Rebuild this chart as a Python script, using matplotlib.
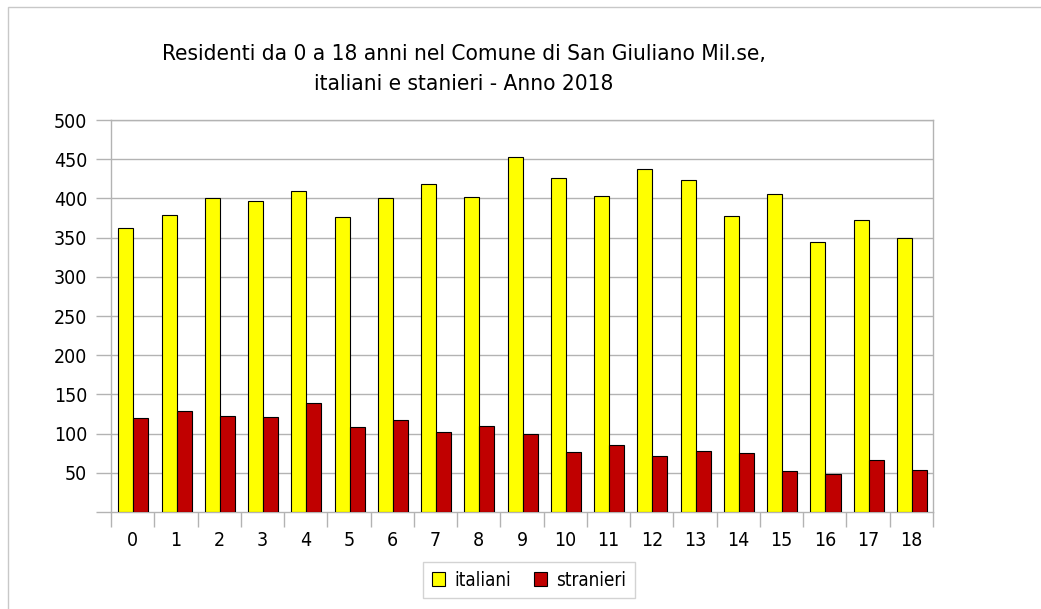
import numpy as np
import matplotlib.pyplot as plt
from matplotlib.patches import Rectangle

plt.rcParams['font.stretch'] = 'condensed'

eta = [str(i) for i in range(19)]
italiani = [362, 379, 401, 397, 409, 376, 400, 418, 402, 453,
            426, 403, 438, 424, 378, 406, 345, 373, 349]
stranieri = [120, 129, 123, 121, 139, 108, 117, 102, 110, 100,
             77, 86, 72, 78, 75, 52, 49, 66, 54]
y_ticks = [50, 100, 150, 200, 250, 300, 350, 400, 450, 500]

W, H = 1041, 609
fig = plt.figure(figsize=(W / 100, H / 100), dpi=100)
fig.patch.set_facecolor('white')

# outer frame (only left and top visible in the original)
fig.add_artist(Rectangle((8 / W, -0.1), 1.2, 1.1 - 7 / H,
                         transform=fig.transFigure, fill=False,
                         edgecolor='#c8c8c8', linewidth=1))

ax = fig.add_axes([111 / W, 1 - 512 / H, (933 - 111) / W, (512 - 120) / H])

x = np.arange(len(eta))
w = 0.347
ax.bar(x - w / 2 + 0.015, italiani, w, color='#ffff00', edgecolor='black',
       linewidth=0.8, label='italiani', zorder=3)
ax.bar(x + w / 2 + 0.015, stranieri, w, color='#c00000', edgecolor='black',
       linewidth=0.8, label='stranieri', zorder=3)

ax.set_xlim(-0.5, len(eta) - 0.5)
ax.set_ylim(0, 500)
ax.set_yticks(y_ticks)
ax.set_yticklabels([str(v) for v in y_ticks])
ax.yaxis.grid(True, color='#b3b3b3', linewidth=1, zorder=0)
ax.set_axisbelow(True)

# category labels centred, tick marks on the boundaries
ax.set_xticks(x)
ax.set_xticklabels(eta)
ax.tick_params(axis='x', length=0, pad=14, labelsize=14)
ax.set_xticks(np.arange(-0.5, len(eta)), minor=True)
ax.tick_params(axis='x', which='minor', length=11, color='#b3b3b3', width=1)
ax.tick_params(axis='y', length=11, color='#b3b3b3', width=1, labelsize=14, pad=6)
# tick at 0 without label
ax.set_yticks([0], minor=True)
ax.tick_params(axis='y', which='minor', length=11, color='#b3b3b3', width=1)

for s in ax.spines.values():
    s.set_color('#b3b3b3')
    s.set_linewidth(1)

fig.text(464 / W, 1 - 54 / H, 'Residenti da 0 a 18 anni nel Comune di San Giuliano Mil.se,',
         ha='center', va='center', fontsize=16.2)
fig.text(464 / W, 1 - 84 / H, 'italiani e stanieri - Anno 2018',
         ha='center', va='center', fontsize=16.2)

leg = fig.legend(loc='center', bbox_to_anchor=(529 / W, 1 - 580 / H), ncol=2,
                 frameon=True, fancybox=False, edgecolor='#c8c8c8',
                 fontsize=13.5, handlelength=0.7, handleheight=0.7,
                 handletextpad=0.5, columnspacing=1.2, borderpad=0.45)
leg.get_frame().set_linewidth(1)

plt.savefig('out.png', dpi=100)
